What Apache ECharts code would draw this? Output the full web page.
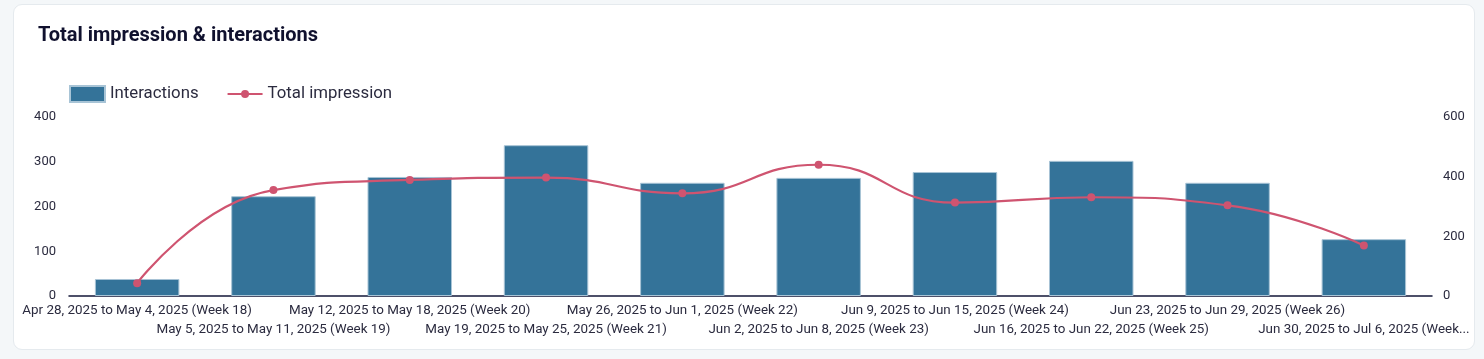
<!DOCTYPE html>
<html>
<head>
<meta charset="utf-8">
<script src="https://cdn.jsdelivr.net/npm/echarts@6/dist/echarts.min.js"></script>
<style>
  html, body { margin: 0; padding: 0; width: 1484px; height: 359px; background: #f4f7f9; overflow: hidden; }
  #card { position: absolute; left: 13px; top: 4px; width: 1460px; height: 344px; background: #fff; border: 1px solid #e5eaee; border-radius: 9px; }
  #chart { position: absolute; left: 0; top: 0; width: 1484px; height: 359px; }
</style>
</head>
<body>
<div id="card"></div>
<div id="chart"></div>
<script>
const categories = [
  'Apr 28, 2025 to May 4, 2025 (Week 18)',
  'May 5, 2025 to May 11, 2025 (Week 19)',
  'May 12, 2025 to May 18, 2025 (Week 20)',
  'May 19, 2025 to May 25, 2025 (Week 21)',
  'May 26, 2025 to Jun 1, 2025 (Week 22)',
  'Jun 2, 2025 to Jun 8, 2025 (Week 23)',
  'Jun 9, 2025 to Jun 15, 2025 (Week 24)',
  'Jun 16, 2025 to Jun 22, 2025 (Week 25)',
  'Jun 23, 2025 to Jun 29, 2025 (Week 26)',
  'Jun 30, 2025 to Jul 6, 2025 (Week 27)'
];
const interactions = [38, 223, 266, 337, 253, 264, 277, 302, 253, 127];
const totalImpression = [43, 355, 389, 397, 344, 440, 313, 331, 304, 169];
const leftTicks = [0, 100, 200, 300, 400];
const rightTicks = [0, 200, 400, 600];

const chart = echarts.init(document.getElementById('chart'), null, { renderer: 'canvas' });
const FONT = 'Roboto';
const LINE_ICON = 'path://M0,3 L35,3 L35,5 L0,5 Z M13.5,4 A4,4 0 1,1 21.5,4 A4,4 0 1,1 13.5,4 Z';
chart.setOption({
  backgroundColor: 'transparent',
  animation: false,
  textStyle: { fontFamily: FONT },
  title: {
    text: 'Total impression & interactions',
    left: 33, top: 21,
    textStyle: { fontFamily: FONT, fontSize: 20, fontWeight: 'bold', color: '#10112e' }
  },
  legend: {
    left: 64, top: 80,
    itemWidth: 35, itemHeight: 16, itemGap: 29,
    symbolKeepAspect: true,
    textStyle: { fontFamily: FONT, fontSize: 16.8, color: '#2b2b3f' },
    data: [
      { name: 'Interactions', icon: 'rect' },
      { name: 'Total impression', icon: LINE_ICON }
    ]
  },
  grid: { left: 69, right: 52, top: 117, bottom: 63, containLabel: false },
  xAxis: {
    type: 'category',
    data: categories,
    axisLine: { lineStyle: { color: '#131738', width: 1.5 } },
    axisTick: { show: false },
    axisLabel: {
      interval: 0,
      fontFamily: FONT, fontSize: 13.4, color: '#2b2b3f',
      lineHeight: 19, margin: 5,
      formatter: function (v, i) {
        let s = v;
        if (i === categories.length - 1) s = v.slice(0, v.indexOf('(Week') + 5) + '...';
        return i % 2 === 1 ? '\n' + s : s;
      }
    }
  },
  yAxis: [
    {
      type: 'value', min: leftTicks[0], max: leftTicks[leftTicks.length - 1], interval: 100,
      splitLine: { show: false }, axisLine: { show: false }, axisTick: { show: false },
      axisLabel: { fontFamily: FONT, fontSize: 13, color: '#2b2b3f', margin: 13 }
    },
    {
      type: 'value', min: rightTicks[0], max: rightTicks[rightTicks.length - 1], interval: 200,
      splitLine: { show: false }, axisLine: { show: false }, axisTick: { show: false },
      axisLabel: { fontFamily: FONT, fontSize: 13, color: '#2b2b3f', margin: 11 }
    }
  ],
  series: [
    {
      name: 'Interactions', type: 'bar', yAxisIndex: 0,
      data: interactions, barWidth: '62%',
      itemStyle: { color: '#347399', borderColor: '#a8c4d6', borderWidth: 1 }
    },
    {
      name: 'Total impression', type: 'line', yAxisIndex: 1,
      data: totalImpression, smooth: 0.5,
      symbol: 'circle', symbolSize: 8,
      lineStyle: { color: '#cf5470', width: 2.2 },
      itemStyle: { color: '#cf5470' }
    }
  ]
});
</script>
</body>
</html>
